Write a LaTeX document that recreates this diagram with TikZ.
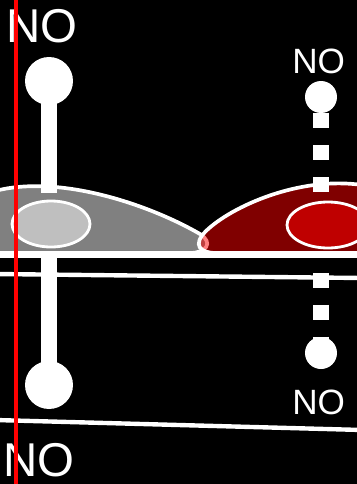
\documentclass[tikz,border=0pt]{standalone}
\usepackage{fontspec}
\setmainfont{Liberation Sans}

\begin{document}
\begin{tikzpicture}[
  x=0.02cm, y=-0.02cm,
  lobe/.style={draw=white, line width=2.1pt, fill opacity=0.5},
  core/.style={draw=white, line width=1.6pt, fill opacity=0.5},
  plane/.style={draw=white, line width=2.5pt},
  stick/.style={white, line width=9.07pt},
  ball/.style={circle, fill=white, inner sep=0pt, minimum size=0.96cm},
  smallball/.style={circle, fill=white, inner sep=0pt, minimum size=0.64cm},
  dots/.style={white, line width=9.07pt, dash pattern=on 0.3cm off 0.34cm},
  bigtag/.style={white, inner sep=0pt, anchor=base west, font=\fontsize{27}{30}\selectfont},
  smalltag/.style={white, inner sep=0pt, anchor=base west, font=\fontsize{20}{24}\selectfont}
]
  \useasboundingbox (0,0) rectangle (357,484);
  \fill[black] (0,0) rectangle (357,484);

  % plane edges
  \draw[plane] (-5,274) -- (362,278);
  \draw[plane] (-5,420) -- (362,430);

  % the two lobes
  \path[lobe, fill=white] (-5,191) .. controls (60,174) and (150,205) .. (200,234)
    .. controls (214,243) and (206,253) .. (190,253) -- (-5,253) -- cycle;
  \path[lobe, fill=red] (362,185) .. controls (300,176) and (232,206) .. (206,231)
    .. controls (192,245) and (200,253) .. (216,253) -- (362,253) -- cycle;
  \path[core, fill=white] (51,224) ellipse [x radius=39, y radius=23];
  \path[core, fill=red] (328,225) ellipse [x radius=41, y radius=23];
  \draw[white, line width=3pt] (-5,255) -- (362,255);

  % solid pair on the left
  \node[ball] (topball) at (49,81) {};
  \node[ball] (lowball) at (49,385) {};
  \coordinate (topend) at (49,193);
  \coordinate (lowend) at (49,257);
  \draw[stick] (topball.center) -- (topend);
  \draw[stick] (lowend) -- (lowball.center);

  % dashed pair on the right
  \node[smallball] (rtop) at (321,97) {};
  \node[smallball] (rlow) at (321,353) {};
  \coordinate (rtopend) at (321,193);
  \coordinate (rlowend) at (321,273);
  \draw[dots] (rtop.south) -- (rtopend);
  \draw[dots] (rlowend) -- (rlow.center);

  % labels
  \node[bigtag] (tagA) at (6,42) {NO};
  \node[bigtag] (tagB) at (3,476) {NO};
  \node[smalltag] (tagC) at (292,73) {NO};
  \node[smalltag] (tagD) at (292,414) {NO};

  \draw[red, line width=2.55pt] (16,0) -- (16,484);
\end{tikzpicture}
\end{document}
